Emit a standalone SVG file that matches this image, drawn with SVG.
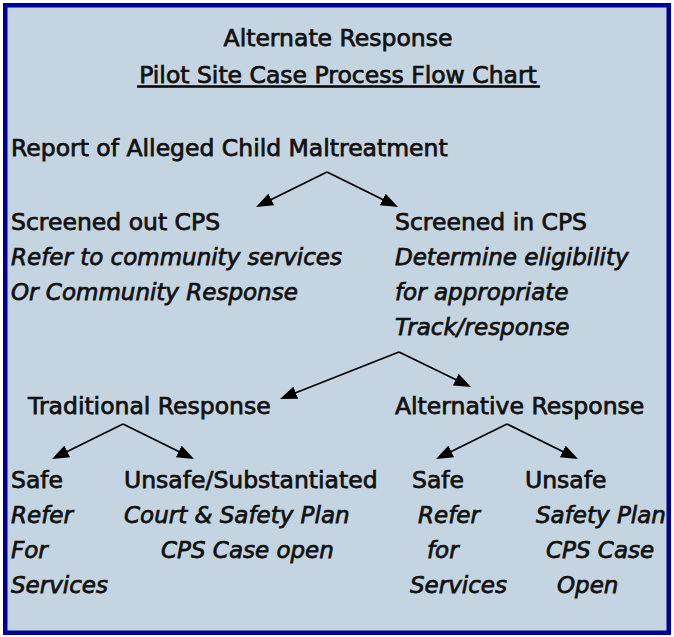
<svg xmlns="http://www.w3.org/2000/svg" width="674" height="637" viewBox="0 0 674 637">
  <style>
    text { font-family: "DejaVu Sans", "Liberation Sans", sans-serif; font-size: 23.5px; fill: #111; stroke: #111; stroke-width: 0.75; }
    .it { font-style: italic; font-size: 23px; }
    .mid { text-anchor: middle; }
    .conn { stroke: #000; stroke-width: 1.8; fill: none; }
  </style>
  <defs>
    <marker id="ah" markerUnits="userSpaceOnUse" markerWidth="17" markerHeight="13" viewBox="0 0 17 13" refX="13" refY="6.5" orient="auto">
      <path d="M0,0 L17,6.5 L0,13 z" fill="#000"/>
    </marker>
  </defs>
  <rect x="0" y="0" width="674" height="637" fill="#ffffff"/>
  <rect x="5.25" y="5.25" width="663.5" height="627.5" fill="#c4d4e0" stroke="#000099" stroke-width="4.5"/>

  <g id="title">
    <text class="mid" x="338" y="46">Alternate Response</text>
    <text class="mid" x="338" y="82.5">Pilot Site Case Process Flow Chart</text>
    <line x1="137" y1="86.5" x2="540" y2="86.5" stroke="#000" stroke-width="2.6"/>
  </g>

  <g id="report">
    <text x="11" y="156">Report of Alleged Child Maltreatment</text>
  </g>

  <g id="screened-out">
    <text x="11" y="230">Screened out CPS</text>
    <text class="it" x="11" y="265">Refer to community services</text>
    <text class="it" x="11" y="300">Or Community Response</text>
  </g>

  <g id="screened-in">
    <text x="395" y="230">Screened in CPS</text>
    <text class="it" x="395" y="265">Determine eligibility</text>
    <text class="it" x="395" y="300">for appropriate</text>
    <text class="it" x="395" y="335">Track/response</text>
  </g>

  <g id="traditional">
    <text x="28" y="414">Traditional Response</text>
  </g>

  <g id="alternative">
    <text x="395" y="414">Alternative Response</text>
  </g>

  <g id="trad-safe">
    <text x="11" y="488">Safe</text>
    <text class="it" x="11" y="523">Refer</text>
    <text class="it" x="11" y="558">For</text>
    <text class="it" x="11" y="593">Services</text>
  </g>

  <g id="trad-unsafe">
    <text x="124" y="488">Unsafe/Substantiated</text>
    <text class="it" x="124" y="523">Court &amp; Safety Plan</text>
    <text class="it" x="161" y="558">CPS Case open</text>
  </g>

  <g id="alt-safe">
    <text x="412" y="488">Safe</text>
    <text class="it" x="418" y="523">Refer</text>
    <text class="it" x="427" y="558">for</text>
    <text class="it" x="410" y="593">Services</text>
  </g>

  <g id="alt-unsafe">
    <text x="525" y="488">Unsafe</text>
    <text class="it" x="536" y="523">Safety Plan</text>
    <text class="it" x="546" y="558">CPS Case</text>
    <text class="it" x="557" y="593">Open</text>
  </g>

  <g id="connectors">
    <line class="conn" x1="327" y1="172" x2="259.6" y2="205.2" marker-end="url(#ah)"/>
    <line class="conn" x1="327" y1="172" x2="394.4" y2="205.2" marker-end="url(#ah)"/>
    <line class="conn" x1="399" y1="352" x2="283.7" y2="397.5" marker-end="url(#ah)"/>
    <line class="conn" x1="399" y1="352" x2="467.4" y2="385.3" marker-end="url(#ah)"/>
    <line class="conn" x1="123" y1="424" x2="55.6" y2="457.2" marker-end="url(#ah)"/>
    <line class="conn" x1="123" y1="424" x2="190.4" y2="457.2" marker-end="url(#ah)"/>
    <line class="conn" x1="507" y1="424" x2="439.6" y2="457.2" marker-end="url(#ah)"/>
    <line class="conn" x1="507" y1="424" x2="574.4" y2="457.2" marker-end="url(#ah)"/>
  </g>
</svg>
